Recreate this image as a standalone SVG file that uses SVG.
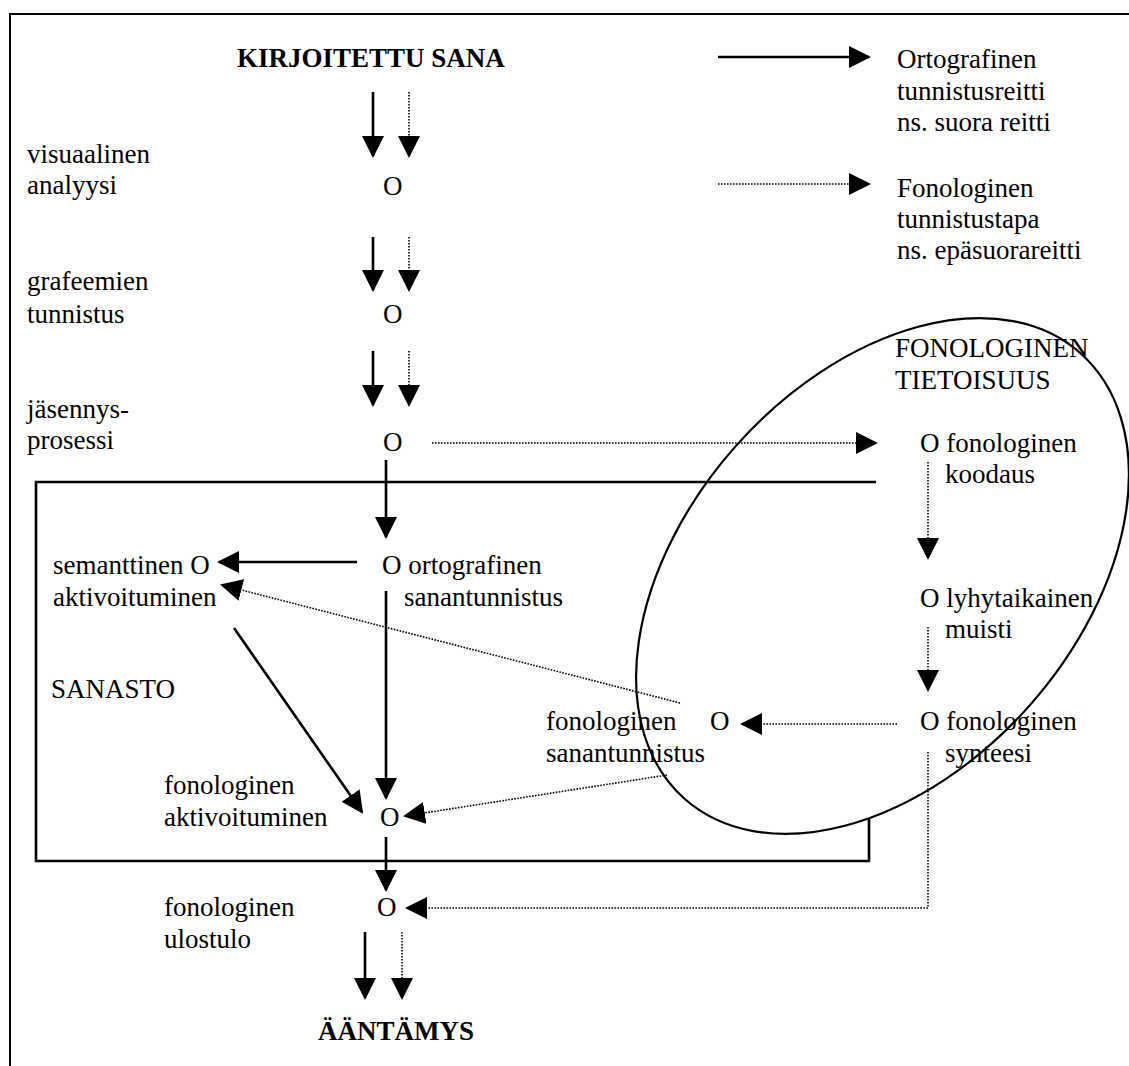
<svg xmlns="http://www.w3.org/2000/svg" width="1129" height="1066" viewBox="0 0 1129 1066">
<style>
text{font-family:"Liberation Serif","Times New Roman",serif;font-size:27px;fill:#000}
.b{font-weight:bold}
.s{fill:none;stroke:#000;stroke-width:2.6}
.d{fill:none;stroke:#000;stroke-width:1.6;stroke-dasharray:1.6 1.4}
.frame{fill:none;stroke:#000;stroke-width:2}
.box{fill:none;stroke:#000;stroke-width:2.6}
</style>
<defs>
<marker id="ah" viewBox="0 0 22 22" markerWidth="22" markerHeight="22" refX="20" refY="11" markerUnits="userSpaceOnUse" orient="auto">
<path d="M0,0 L22,11 L0,22 Z" fill="#000"/>
</marker>
</defs>
<rect width="1129" height="1066" fill="#fff"/>
<path class="frame" d="M10,1066 V14 H1129"/>
<g id="sanasto">
<path class="box" d="M869,818 V861 H36 V482 H876"/>
<text x="51" y="698">SANASTO</text>
</g>
<g id="tietoisuus">
<ellipse cx="882.5" cy="576" rx="298" ry="196" transform="rotate(-48.3 882.5 576)" fill="none" stroke="#000" stroke-width="2.2"/>
<text x="895" y="357">FONOLOGINEN</text>
<text x="895" y="389">TIETOISUUS</text>
</g>
<g id="kirjoitettu"><text class="b" x="237" y="67">KIRJOITETTU SANA</text></g>
<g id="legend-orto">
<text x="897" y="68">Ortografinen</text>
<text x="897" y="100">tunnistusreitti</text>
<text x="897" y="131">ns. suora reitti</text>
</g>
<g id="legend-fono">
<text x="897" y="197">Fonologinen</text>
<text x="897" y="228">tunnistustapa</text>
<text x="897" y="259">ns. epäsuorareitti</text>
</g>
<g id="visuaalinen">
<text x="27" y="163">visuaalinen</text>
<text x="27" y="194">analyysi</text>
<text x="383" y="195">O</text>
</g>
<g id="grafeemien">
<text x="27" y="290">grafeemien</text>
<text x="27" y="323">tunnistus</text>
<text x="383" y="323">O</text>
</g>
<g id="jasennys">
<text x="27" y="418">jäsennys-</text>
<text x="27" y="449">prosessi</text>
<text x="383" y="451">O</text>
</g>
<g id="koodaus">
<text x="920" y="452">O fonologinen</text>
<text x="945" y="483">koodaus</text>
</g>
<g id="lyhytaikainen">
<text x="920" y="607">O lyhytaikainen</text>
<text x="945" y="638">muisti</text>
</g>
<g id="synteesi">
<text x="920" y="730">O fonologinen</text>
<text x="945" y="762">synteesi</text>
</g>
<g id="semanttinen">
<text x="53" y="574">semanttinen O</text>
<text x="53" y="606">aktivoituminen</text>
</g>
<g id="ortografinen">
<text x="382" y="574">O ortografinen</text>
<text x="404" y="606">sanantunnistus</text>
</g>
<g id="fon-sanantunnistus">
<text x="546" y="730">fonologinen</text>
<text x="546" y="762">sanantunnistus</text>
<text x="710" y="730">O</text>
</g>
<g id="fon-aktivoituminen">
<text x="164" y="794">fonologinen</text>
<text x="164" y="826">aktivoituminen</text>
<text x="380" y="826">O</text>
</g>
<g id="ulostulo">
<text x="164" y="916">fonologinen</text>
<text x="164" y="948">ulostulo</text>
<text x="377" y="916">O</text>
</g>
<g id="aantamys"><text class="b" x="318" y="1040">ÄÄNTÄMYS</text></g>
<g id="connectors">
<path class="s" marker-end="url(#ah)" d="M718,57 H869"/>
<path class="d" marker-end="url(#ah)" d="M718,184 H869"/>
<path class="s" marker-end="url(#ah)" d="M373,92 V156"/>
<path class="d" marker-end="url(#ah)" d="M409,92 V156"/>
<path class="s" marker-end="url(#ah)" d="M373,237 V290"/>
<path class="d" marker-end="url(#ah)" d="M409,237 V290"/>
<path class="s" marker-end="url(#ah)" d="M373,351 V405"/>
<path class="d" marker-end="url(#ah)" d="M409,351 V405"/>
<path class="d" marker-end="url(#ah)" d="M432,443 H876"/>
<path class="s" marker-end="url(#ah)" d="M386,460 V537"/>
<path class="s" marker-end="url(#ah)" d="M357,562 H219"/>
<path class="s" marker-end="url(#ah)" d="M386,591 V798"/>
<path class="s" marker-end="url(#ah)" d="M234,628 L362,812"/>
<path class="d" marker-end="url(#ah)" d="M680,703 L222,585"/>
<path class="d" marker-end="url(#ah)" d="M667,775 L405,816"/>
<path class="d" marker-end="url(#ah)" d="M928,462 V558"/>
<path class="d" marker-end="url(#ah)" d="M928,627 V690"/>
<path class="d" marker-end="url(#ah)" d="M897,724 H742"/>
<path class="s" marker-end="url(#ah)" d="M386,837 V890"/>
<path class="d" marker-end="url(#ah)" d="M928,752 V908 H407"/>
<path class="s" marker-end="url(#ah)" d="M365,932 V998"/>
<path class="d" marker-end="url(#ah)" d="M402,932 V998"/>
</g>
</svg>
